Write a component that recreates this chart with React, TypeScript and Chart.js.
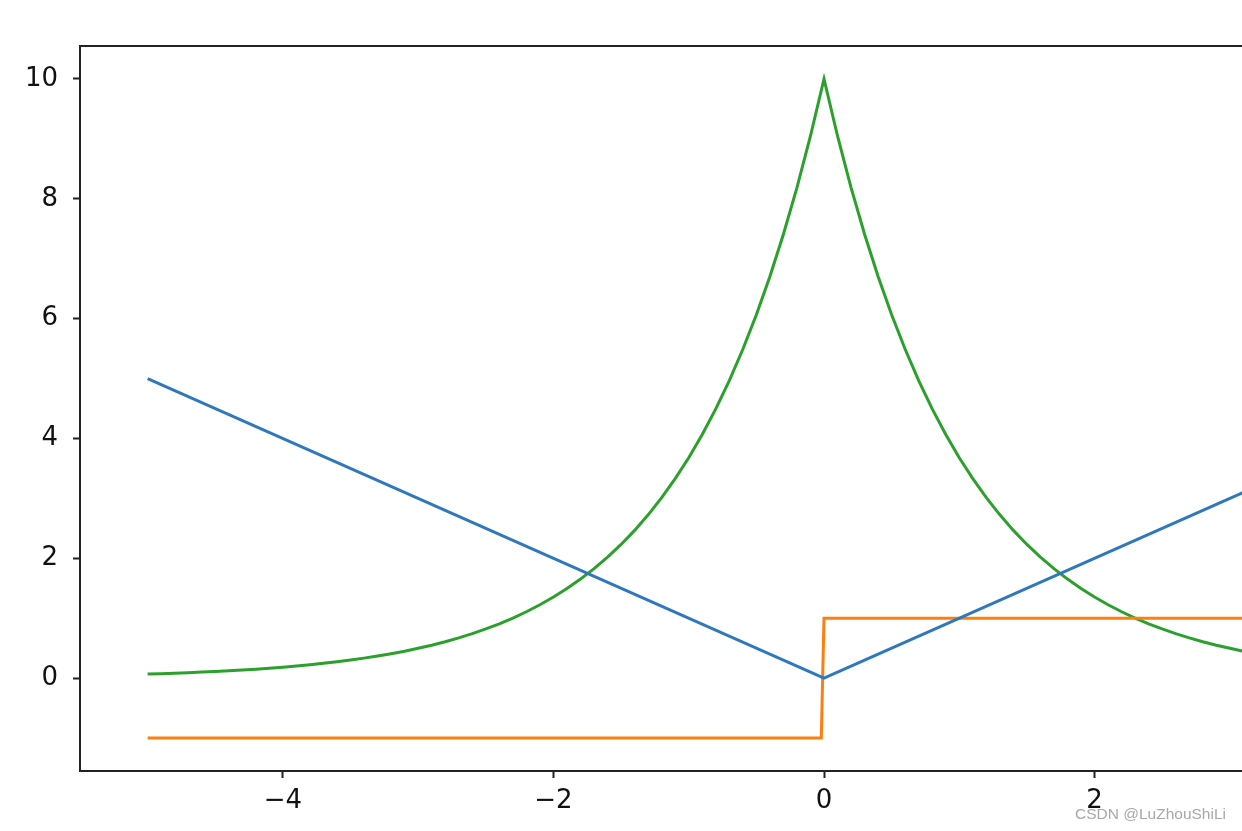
import React, { useEffect, useRef } from "react";
import { Chart, registerables } from "chart.js";

Chart.register(...registerables);

// Data
const absX = [-5, 0, 5];
const absY = [5, 0, 5];

const signX = [-5, -0.02, 0.0, 5];
const signY = [-1, -1, 1, 1];

const expX = [
  -5.0, -4.9, -4.8, -4.7, -4.6, -4.5, -4.4, -4.3, -4.2, -4.1,
  -4.0, -3.9, -3.8, -3.7, -3.6, -3.5, -3.4, -3.3, -3.2, -3.1,
  -3.0, -2.9, -2.8, -2.7, -2.6, -2.5, -2.4, -2.3, -2.2, -2.1,
  -2.0, -1.9, -1.8, -1.7, -1.6, -1.5, -1.4, -1.3, -1.2, -1.1,
  -1.0, -0.9, -0.8, -0.7, -0.6, -0.5, -0.4, -0.3, -0.2, -0.1,
  0.0,
  0.1, 0.2, 0.3, 0.4, 0.5, 0.6, 0.7, 0.8, 0.9, 1.0,
  1.1, 1.2, 1.3, 1.4, 1.5, 1.6, 1.7, 1.8, 1.9, 2.0,
  2.1, 2.2, 2.3, 2.4, 2.5, 2.6, 2.7, 2.8, 2.9, 3.0,
  3.1, 3.2, 3.3, 3.4, 3.5, 3.6, 3.7, 3.8, 3.9, 4.0,
  4.1, 4.2, 4.3, 4.4, 4.5, 4.6, 4.7, 4.8, 4.9, 5.0,
];
const expY = [
  0.067, 0.074, 0.082, 0.091, 0.101, 0.111, 0.123, 0.136, 0.15, 0.166,
  0.183, 0.202, 0.224, 0.247, 0.273, 0.302, 0.334, 0.369, 0.408, 0.45,
  0.498, 0.55, 0.608, 0.672, 0.743, 0.821, 0.907, 1.003, 1.108, 1.225,
  1.353, 1.496, 1.653, 1.827, 2.019, 2.231, 2.466, 2.725, 3.012, 3.329,
  3.679, 4.066, 4.493, 4.966, 5.488, 6.065, 6.703, 7.408, 8.187, 9.048,
  10.0,
  9.048, 8.187, 7.408, 6.703, 6.065, 5.488, 4.966, 4.493, 4.066, 3.679,
  3.329, 3.012, 2.725, 2.466, 2.231, 2.019, 1.827, 1.653, 1.496, 1.353,
  1.225, 1.108, 1.003, 0.907, 0.821, 0.743, 0.672, 0.608, 0.55, 0.498,
  0.45, 0.408, 0.369, 0.334, 0.302, 0.273, 0.247, 0.224, 0.202, 0.183,
  0.166, 0.15, 0.136, 0.123, 0.111, 0.101, 0.091, 0.082, 0.074, 0.067,
];

const xTicks = [-4, -2, 0, 2, 4];
const yTicks = [0, 2, 4, 6, 8, 10];

const toPoints = (xs: number[], ys: number[]) => xs.map((x, i) => ({ x, y: ys[i] }));
const fmt = (v: number) => (v < 0 ? "\u2212" + Math.abs(v) : String(v));

const SPINE = "#222222";

const framePlugin = {
  id: "frame",
  afterDraw(chart: any) {
    const { ctx, chartArea } = chart;
    ctx.save();
    ctx.strokeStyle = SPINE;
    ctx.lineWidth = 2;
    ctx.beginPath();
    ctx.moveTo(chartArea.left - 1, chartArea.top);
    ctx.lineTo(chartArea.right, chartArea.top);
    ctx.lineTo(chartArea.right, chartArea.bottom);
    ctx.stroke();
    ctx.restore();
  },
};

export default function App() {
  const ref = useRef<HTMLCanvasElement>(null);
  useEffect(() => {
    if (!ref.current) return;
    const tickFont = { family: "DejaVu Sans", size: 26 };
    const chart = new Chart(ref.current, {
      type: "line",
      data: {
        datasets: [
          {
            data: toPoints(absX, absY),
            borderColor: "#2f78ba",
            borderWidth: 3,
            pointRadius: 0,
          },
          {
            data: toPoints(signX, signY),
            borderColor: "#ff7f0e",
            borderWidth: 3,
            pointRadius: 0,
          },
          {
            data: toPoints(expX, expY),
            borderColor: "#2ca02c",
            borderWidth: 3,
            pointRadius: 0,
          },
        ],
      },
      options: {
        responsive: false,
        animation: false,
        layout: { padding: { left: 0, top: 46, right: 32, bottom: 0 } },
        plugins: { legend: { display: false }, tooltip: { enabled: false } },
        scales: {
          x: {
            type: "linear",
            min: -5.5,
            max: 5.5,
            afterFit: (s: any) => {
              s.height = 60;
            },
            afterBuildTicks: (s: any) => {
              s.ticks = xTicks.map((v) => ({ value: v }));
            },
            grid: {
              display: true,
              drawOnChartArea: false,
              drawTicks: true,
              tickLength: 7,
              tickWidth: 2,
              tickColor: SPINE,
            },
            border: { display: true, color: SPINE, width: 2 },
            ticks: {
              color: "#111",
              font: tickFont,
              padding: 8,
              maxRotation: 0,
              callback: (v: any) => fmt(Number(v)),
            },
          },
          y: {
            type: "linear",
            min: -1.55,
            max: 10.55,
            afterFit: (s: any) => {
              s.width = 80;
            },
            afterBuildTicks: (s: any) => {
              s.ticks = yTicks.map((v) => ({ value: v }));
            },
            grid: {
              display: true,
              drawOnChartArea: false,
              drawTicks: true,
              tickLength: 7,
              tickWidth: 2,
              tickColor: SPINE,
            },
            border: { display: true, color: SPINE, width: 2 },
            ticks: {
              color: "#111",
              font: tickFont,
              padding: 15,
              callback: (v: any) => fmt(Number(v)),
            },
          },
        },
      },
      plugins: [framePlugin],
    });
    return () => chart.destroy();
  }, []);

  return (
    <div
      style={{
        position: "fixed",
        left: 0,
        top: 0,
        width: 1242,
        height: 831,
        overflow: "hidden",
        background: "#fff",
      }}
    >
      <canvas ref={ref} width={1600} height={831} style={{ display: "block" }} />
      <div
        style={{
          position: "absolute",
          left: 1075,
          top: 805,
          fontFamily: "Liberation Sans, Arial, sans-serif",
          fontSize: 15.5,
          color: "#a8a8a8",
          whiteSpace: "nowrap",
        }}
      >
        CSDN @LuZhouShiLi
      </div>
    </div>
  );
}
